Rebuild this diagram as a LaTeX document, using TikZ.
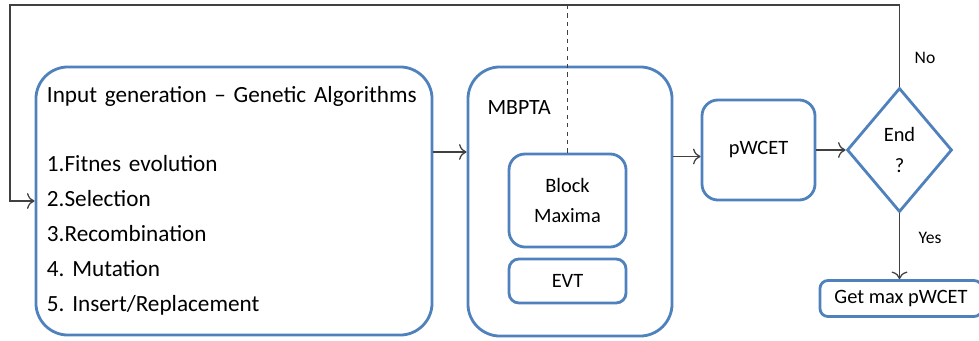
\documentclass[tikz,border=0pt]{standalone}
\usepackage{fontspec}
\setmainfont{Carlito}
\usetikzlibrary{shapes.geometric, arrows.meta}
\definecolor{boxblue}{RGB}{79,129,189}
\definecolor{linegray}{RGB}{64,64,64}
\frenchspacing

\begin{document}
\begin{tikzpicture}[x=0.025cm, y=-0.025cm, >={To[scale=1.5]}, thick,
                box/.style={draw=boxblue, line width=2pt, align=center, inner sep=0pt, font=\fontsize{14.5}{22}\selectfont},
                link/.style={->, draw=linegray, line width=0.9pt}]
                \useasboundingbox (0,0) rectangle (979,341);
                \node[box, rounded corners=0.8cm, minimum width=9.9cm, minimum height=6.7cm, text width=9.35cm, align=left, font=\fontsize{16.5}{25}\selectfont] (input) at (234,201)
                    {Input generation -- Genetic Algorithms\\[24pt]1.Fitnes evolution\\2.Selection\\3.Recombination\\4. Mutation\\5. Insert/Replacement};
                \node[box, rounded corners=0.8cm, minimum width=5.1cm, minimum height=6.725cm] (mbpta) at (570,201.5) {};
                \node[anchor=west, inner sep=0pt, font=\fontsize{15.5}{18}\selectfont] (mbptatxt) at (487,108) {MBPTA};
                \node[box, rounded corners=0.4cm, minimum width=2.925cm, minimum height=2.325cm] (blockmax) at (567.5,200.5) {Block\\Maxima};
                \node[box, rounded corners=0.25cm, minimum width=2.925cm, minimum height=1.1cm] (evt) at (567.5,281) {EVT};
                \node[box, rounded corners=0.4cm, minimum width=2.825cm, minimum height=2.5cm] (pwcet) at (758.5,150) {pWCET};
                \node[box, diamond, minimum width=2.625cm, minimum height=3.1cm] (end) at (899.5,150) {End\\?};
                \node[box, rounded corners=0.2cm, minimum width=4.05cm, minimum height=0.9cm] (getmax) at (901,298.5) {Get max pWCET};
                \node[font=\fontsize{12.5}{15}\selectfont, inner sep=0pt] (no) at (925,58) {No};
                \node[font=\fontsize{12.5}{15}\selectfont, inner sep=0pt] (yes) at (930,238) {Yes};
                \coordinate (topleft) at (10,5);

                \draw[link] ([yshift=1.225cm]input.east) -- ([yshift=1.225cm]input.east -| mbpta.west);
                \draw[link] ([yshift=1.125cm]mbpta.east) -- ([yshift=1.125cm]mbpta.east -| pwcet.west);
                \draw[link] (pwcet) -- (end);
                \draw[link] (end.south) -- (end.south |- getmax.north);
                \draw[link] (end.north) |- (topleft) |- (input.west);
                \draw[linegray, line width=0.7pt, dashed] (blockmax.north |- topleft) -- (blockmax.north);
            \end{tikzpicture}
\end{document}
